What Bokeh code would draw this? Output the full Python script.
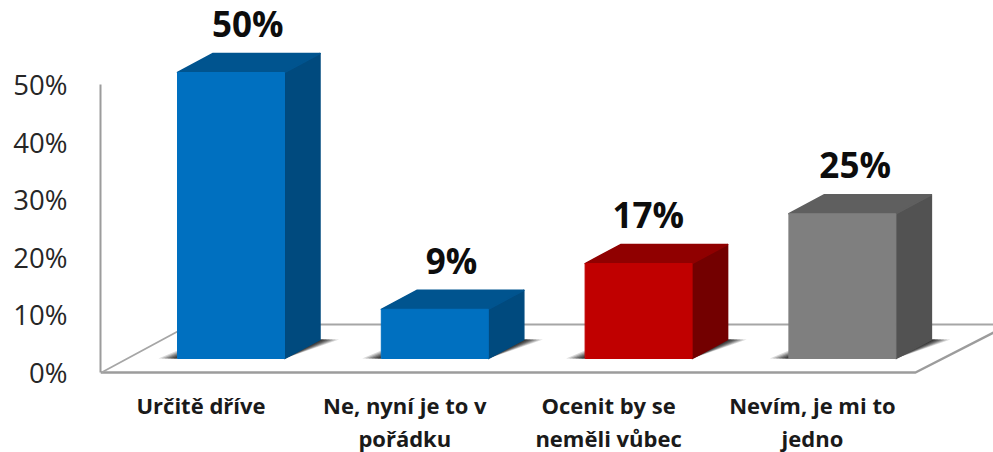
from bokeh.plotting import figure
from bokeh.models import Range1d, LinearAxis, FixedTicker, ColumnDataSource
from bokeh.core.properties import value
from bokeh.embed import file_html
from bokeh.resources import INLINE

# Data
categories = ["Určitě dříve", "Ne, nyní je to v\npořádku", "Ocenit by se\nneměli vůbec", "Nevím, je mi to\njedno"]
values = [50, 8.6, 16.6, 25.3]
data_labels = ["50%", "9%", "17%", "25%"]
tick_values = [0, 10, 20, 30, 40, 50]
tick_labels = ["0%", "10%", "20%", "30%", "40%", "50%"]
front_colors = ["#0070C0", "#0070C0", "#C00000", "#7F7F7F"]
top_colors = ["#00548F", "#00548F", "#900000", "#5F5F5F"]
side_colors = ["#004A7E", "#004A7E", "#730000", "#525252"]

# Layout (pixels of the picture)
W, H = 993, 452
LEFT = 100
PX_X = 203.8      # pixels per category
PX_Y = 5.72       # pixels per percent, bars
BASE_Y = 358.0    # pixel row of value 0, bar base
X0 = 230.5        # pixel column of first bar centre
BAR = 107 / PX_X
DX, DY = 35.5 / PX_X, 19 / PX_Y
FONT = value("Open Sans")
LABEL_NUDGE = [-1, -1, -8, -5]   # horizontal shift of each data label, pixels

x_start = (LEFT - X0) / PX_X
x_end = (W - X0) / PX_X
p = figure(width=W, height=H, output_backend="svg", toolbar_location=None,
           x_range=Range1d(x_start, x_end),
           y_range=Range1d((BASE_Y - H) / PX_Y, BASE_Y / PX_Y),
           min_border=0, min_border_left=LEFT, min_border_right=0, min_border_top=0, min_border_bottom=0,
           x_axis_location=None, y_axis_location=None, outline_line_color=None)
p.grid.visible = False
p.styles = {"position": "absolute", "left": "0px", "top": "0px"}

# value axis, on the wall plane
AX_PX = 5.75
AX_BASE = 371.5
p.extra_y_ranges = {"wall": Range1d((AX_BASE - H) / AX_PX, AX_BASE / AX_PX)}
axis = LinearAxis(y_range_name="wall", ticker=FixedTicker(ticks=tick_values),
                  major_label_overrides={v: t for v, t in zip(tick_values, tick_labels)},
                  bounds=(0, 50), major_tick_line_color=None, minor_tick_line_color=None,
                  axis_line_color="#9C9C9C", axis_line_width=2,
                  major_label_text_font="Open Sans", major_label_text_font_size="27.5px",
                  major_label_text_color="#262626", major_label_standoff=27)
p.add_layout(axis, "left")

# floor outline
fx = lambda px: (px - X0) / PX_X
fy = lambda py: (BASE_Y - py) / PX_Y
p.line([fx(100), fx(915), fx(993)], [fy(372), fy(372), fy(332)], line_color="#9C9C9C", line_width=2.5)
p.line([fx(101), fx(190), fx(993)], [fy(372), fy(324), fy(324)], line_color="#A6A6A6", line_width=1.8)

# bars
for i, (v, f, t, s) in enumerate(zip(values, front_colors, top_colors, side_colors)):
    l, r = i - BAR / 2, i + BAR / 2
    # soft contact shadow: layered translucent patches
    for k, a in zip([19, 16, 13, 10, 7, 4], [0.18, 0.22, 0.28, 0.34, 0.4, 0.5]):
        e = k / PX_X
        p.patch([r, r + DX, r + DX + e, r], [0, DY, DY, 0], fill_color="#262626", fill_alpha=a, line_color=None)
        p.patch([l, l - e, l], [0, 0, k * 0.42 / PX_Y], fill_color="#262626", fill_alpha=a, line_color=None)
    p.patch([r, r + DX, r + DX, r], [0, DY, v + DY, v], fill_color=s, line_color=s, line_width=1.5, line_join="round")
    p.patch([l, l + DX, r + DX, r], [v, v + DY, v + DY, v], fill_color=t, line_color=t, line_width=1.5, line_join="round")

p.vbar(x=list(range(len(values))), width=BAR, bottom=0, top=values, fill_color=front_colors, line_color=front_colors, line_width=1)

# data labels
p.text(x=[i + DX / 2 + n / PX_X for i, n in enumerate(LABEL_NUDGE)], y=[v + DY for v in values], text=data_labels,
       text_font=FONT, text_font_style="bold", text_font_size="35px", text_color="#0D0D0D",
       text_align="center", text_baseline="alphabetic", y_offset=-30)

# category labels
xs, ys, txt, offs = [], [], [], []
for i, c in enumerate(categories):
    for k, line in enumerate(c.split("\n")):
        xs.append(i - 30 / PX_X); ys.append(0); txt.append(line); offs.append(46 + 33 * k)
p.text(x="x", y="y", text="t", y_offset="o", source=ColumnDataSource(dict(x=xs, y=ys, t=txt, o=offs)),
       text_font=FONT, text_font_style="bold", text_font_size="22px", text_color="#1A1A1A",
       text_align="center", text_baseline="alphabetic")

open("out.html", "w").write(file_html(p, INLINE))
